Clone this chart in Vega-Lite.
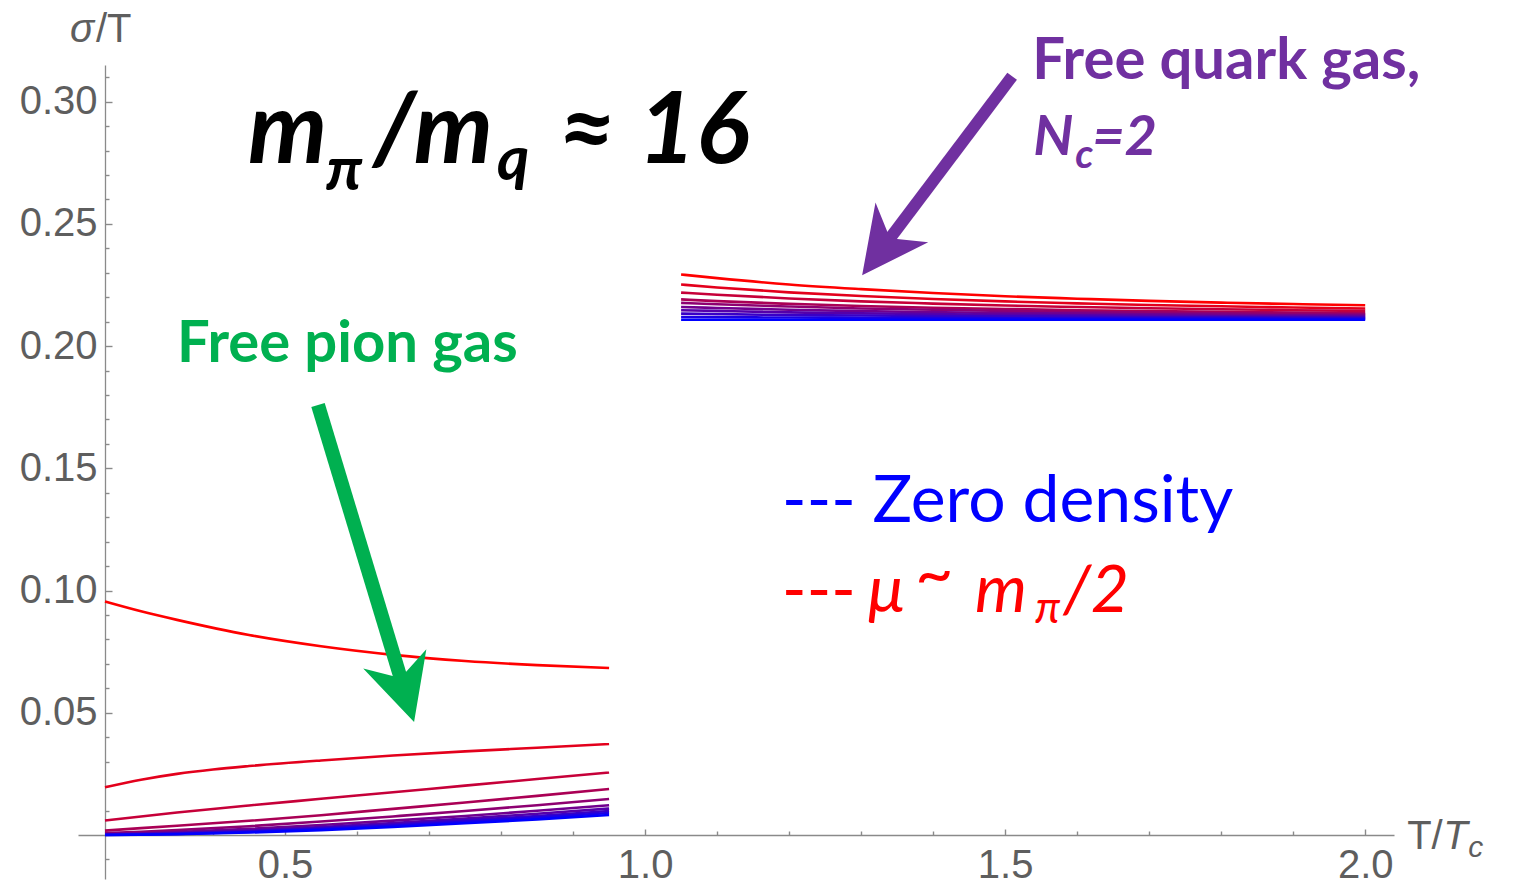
{
  "$schema": "https://vega.github.io/schema/vega-lite/v6.json",
  "width": 1316,
  "height": 814,
  "autosize": {"type": "none"},
  "padding": {"left": 78, "top": 65, "right": 120, "bottom": 6},
  "background": "white",
  "config": {
    "view": {"stroke": null},
    "axis": {
      "domainColor": "#8a8a8a",
      "domainWidth": 1.3,
      "tickColor": "#8a8a8a",
      "tickWidth": 1.4,
      "grid": false,
      "labelFont": "Liberation Sans",
      "labelFontSize": 40,
      "labelColor": "#5e5e5e",
      "labelOverlap": false,
      "labelFlush": false,
      "title": null
    }
  },
  "resolve": {"axis": {"x": "independent", "y": "independent"}},
  "datasets": {
    "curves": [
      {"b":"h","k":9,"T":0.25,"s":0.0955},{"b":"h","k":9,"T":0.30,"s":0.0915},{"b":"h","k":9,"T":0.35,"s":0.0880},{"b":"h","k":9,"T":0.45,"s":0.0818},{"b":"h","k":9,"T":0.55,"s":0.0772},{"b":"h","k":9,"T":0.65,"s":0.0737},{"b":"h","k":9,"T":0.75,"s":0.0712},{"b":"h","k":9,"T":0.85,"s":0.0695},{"b":"h","k":9,"T":0.95,"s":0.0683},
      {"b":"h","k":8,"T":0.25,"s":0.0195},{"b":"h","k":8,"T":0.30,"s":0.0226},{"b":"h","k":8,"T":0.35,"s":0.0250},{"b":"h","k":8,"T":0.40,"s":0.0268},{"b":"h","k":8,"T":0.45,"s":0.0282},{"b":"h","k":8,"T":0.55,"s":0.0305},{"b":"h","k":8,"T":0.65,"s":0.0325},{"b":"h","k":8,"T":0.75,"s":0.0342},{"b":"h","k":8,"T":0.85,"s":0.0357},{"b":"h","k":8,"T":0.95,"s":0.0372},
      {"b":"h","k":7,"T":0.25,"s":0.0059},{"b":"h","k":7,"T":0.30,"s":0.0076},{"b":"h","k":7,"T":0.35,"s":0.0092},{"b":"h","k":7,"T":0.45,"s":0.0121},{"b":"h","k":7,"T":0.55,"s":0.0148},{"b":"h","k":7,"T":0.65,"s":0.0175},{"b":"h","k":7,"T":0.75,"s":0.0202},{"b":"h","k":7,"T":0.85,"s":0.0229},{"b":"h","k":7,"T":0.95,"s":0.0256},
      {"b":"h","k":6,"T":0.25,"s":0.0018},{"b":"h","k":6,"T":0.30,"s":0.0028},{"b":"h","k":6,"T":0.35,"s":0.0038},{"b":"h","k":6,"T":0.45,"s":0.0058},{"b":"h","k":6,"T":0.55,"s":0.0081},{"b":"h","k":6,"T":0.65,"s":0.0107},{"b":"h","k":6,"T":0.75,"s":0.0133},{"b":"h","k":6,"T":0.85,"s":0.0160},{"b":"h","k":6,"T":0.95,"s":0.0188},
      {"b":"h","k":5,"T":0.25,"s":0.0008},{"b":"h","k":5,"T":0.30,"s":0.0013},{"b":"h","k":5,"T":0.35,"s":0.0020},{"b":"h","k":5,"T":0.45,"s":0.0036},{"b":"h","k":5,"T":0.55,"s":0.0055},{"b":"h","k":5,"T":0.65,"s":0.0076},{"b":"h","k":5,"T":0.75,"s":0.0098},{"b":"h","k":5,"T":0.85,"s":0.0122},{"b":"h","k":5,"T":0.95,"s":0.0147},
      {"b":"h","k":4,"T":0.25,"s":0.0004},{"b":"h","k":4,"T":0.30,"s":0.0007},{"b":"h","k":4,"T":0.35,"s":0.0012},{"b":"h","k":4,"T":0.45,"s":0.0025},{"b":"h","k":4,"T":0.55,"s":0.0041},{"b":"h","k":4,"T":0.65,"s":0.0059},{"b":"h","k":4,"T":0.75,"s":0.0078},{"b":"h","k":4,"T":0.85,"s":0.0099},{"b":"h","k":4,"T":0.95,"s":0.0122},
      {"b":"h","k":3,"T":0.25,"s":0.0002},{"b":"h","k":3,"T":0.30,"s":0.0005},{"b":"h","k":3,"T":0.35,"s":0.0008},{"b":"h","k":3,"T":0.45,"s":0.0019},{"b":"h","k":3,"T":0.55,"s":0.0033},{"b":"h","k":3,"T":0.65,"s":0.0049},{"b":"h","k":3,"T":0.75,"s":0.0067},{"b":"h","k":3,"T":0.85,"s":0.0087},{"b":"h","k":3,"T":0.95,"s":0.0108},
      {"b":"h","k":2,"T":0.25,"s":0.0001},{"b":"h","k":2,"T":0.30,"s":0.0003},{"b":"h","k":2,"T":0.35,"s":0.0006},{"b":"h","k":2,"T":0.45,"s":0.0015},{"b":"h","k":2,"T":0.55,"s":0.0028},{"b":"h","k":2,"T":0.65,"s":0.0043},{"b":"h","k":2,"T":0.75,"s":0.0060},{"b":"h","k":2,"T":0.85,"s":0.0078},{"b":"h","k":2,"T":0.95,"s":0.0098},
      {"b":"h","k":1,"T":0.25,"s":0.0000},{"b":"h","k":1,"T":0.30,"s":0.0002},{"b":"h","k":1,"T":0.35,"s":0.0004},{"b":"h","k":1,"T":0.45,"s":0.0012},{"b":"h","k":1,"T":0.55,"s":0.0024},{"b":"h","k":1,"T":0.65,"s":0.0038},{"b":"h","k":1,"T":0.75,"s":0.0054},{"b":"h","k":1,"T":0.85,"s":0.0071},{"b":"h","k":1,"T":0.95,"s":0.0090},
      {"b":"h","k":0,"T":0.25,"s":0.0000},{"b":"h","k":0,"T":0.30,"s":0.0001},{"b":"h","k":0,"T":0.35,"s":0.0003},{"b":"h","k":0,"T":0.45,"s":0.0010},{"b":"h","k":0,"T":0.55,"s":0.0020},{"b":"h","k":0,"T":0.65,"s":0.0033},{"b":"h","k":0,"T":0.75,"s":0.0048},{"b":"h","k":0,"T":0.85,"s":0.0064},{"b":"h","k":0,"T":0.95,"s":0.0082},
      {"b":"q","k":9,"T":1.05,"s":0.2293},{"b":"q","k":9,"T":1.1,"s":0.2278},{"b":"q","k":9,"T":1.2,"s":0.2252},{"b":"q","k":9,"T":1.3,"s":0.2233},{"b":"q","k":9,"T":1.4,"s":0.2217},{"b":"q","k":9,"T":1.5,"s":0.2204},{"b":"q","k":9,"T":1.6,"s":0.2194},{"b":"q","k":9,"T":1.7,"s":0.2185},{"b":"q","k":9,"T":1.8,"s":0.2178},{"b":"q","k":9,"T":1.9,"s":0.2172},{"b":"q","k":9,"T":2.0,"s":0.2167},
      {"b":"q","k":8,"T":1.05,"s":0.2252},{"b":"q","k":8,"T":1.1,"s":0.2240},{"b":"q","k":8,"T":1.2,"s":0.2220},{"b":"q","k":8,"T":1.3,"s":0.2205},{"b":"q","k":8,"T":1.4,"s":0.2193},{"b":"q","k":8,"T":1.5,"s":0.2183},{"b":"q","k":8,"T":1.6,"s":0.2175},{"b":"q","k":8,"T":1.7,"s":0.2168},{"b":"q","k":8,"T":1.8,"s":0.2163},{"b":"q","k":8,"T":1.9,"s":0.2158},{"b":"q","k":8,"T":2.0,"s":0.2154},
      {"b":"q","k":7,"T":1.05,"s":0.2219},{"b":"q","k":7,"T":1.1,"s":0.2210},{"b":"q","k":7,"T":1.2,"s":0.2195},{"b":"q","k":7,"T":1.3,"s":0.2183},{"b":"q","k":7,"T":1.4,"s":0.2174},{"b":"q","k":7,"T":1.5,"s":0.2166},{"b":"q","k":7,"T":1.6,"s":0.2160},{"b":"q","k":7,"T":1.7,"s":0.2155},{"b":"q","k":7,"T":1.8,"s":0.2151},{"b":"q","k":7,"T":1.9,"s":0.2147},{"b":"q","k":7,"T":2.0,"s":0.2144},
      {"b":"q","k":6,"T":1.05,"s":0.2191},{"b":"q","k":6,"T":1.1,"s":0.2184},{"b":"q","k":6,"T":1.2,"s":0.2173},{"b":"q","k":6,"T":1.3,"s":0.2164},{"b":"q","k":6,"T":1.4,"s":0.2157},{"b":"q","k":6,"T":1.5,"s":0.2152},{"b":"q","k":6,"T":1.6,"s":0.2147},{"b":"q","k":6,"T":1.7,"s":0.2143},{"b":"q","k":6,"T":1.8,"s":0.2140},{"b":"q","k":6,"T":1.9,"s":0.2137},{"b":"q","k":6,"T":2.0,"s":0.2135},
      {"b":"q","k":5,"T":1.05,"s":0.2177},{"b":"q","k":5,"T":1.1,"s":0.2171},{"b":"q","k":5,"T":1.2,"s":0.2162},{"b":"q","k":5,"T":1.3,"s":0.2154},{"b":"q","k":5,"T":1.4,"s":0.2149},{"b":"q","k":5,"T":1.5,"s":0.2144},{"b":"q","k":5,"T":1.6,"s":0.2140},{"b":"q","k":5,"T":1.7,"s":0.2137},{"b":"q","k":5,"T":1.8,"s":0.2134},{"b":"q","k":5,"T":1.9,"s":0.2132},{"b":"q","k":5,"T":2.0,"s":0.2130},
      {"b":"q","k":4,"T":1.05,"s":0.2160},{"b":"q","k":4,"T":1.1,"s":0.2156},{"b":"q","k":4,"T":1.2,"s":0.2149},{"b":"q","k":4,"T":1.3,"s":0.2143},{"b":"q","k":4,"T":1.4,"s":0.2139},{"b":"q","k":4,"T":1.5,"s":0.2135},{"b":"q","k":4,"T":1.6,"s":0.2133},{"b":"q","k":4,"T":1.7,"s":0.2130},{"b":"q","k":4,"T":1.8,"s":0.2128},{"b":"q","k":4,"T":1.9,"s":0.2126},{"b":"q","k":4,"T":2.0,"s":0.2125},
      {"b":"q","k":3,"T":1.05,"s":0.2147},{"b":"q","k":3,"T":1.1,"s":0.2144},{"b":"q","k":3,"T":1.2,"s":0.2138},{"b":"q","k":3,"T":1.3,"s":0.2134},{"b":"q","k":3,"T":1.4,"s":0.2131},{"b":"q","k":3,"T":1.5,"s":0.2128},{"b":"q","k":3,"T":1.6,"s":0.2126},{"b":"q","k":3,"T":1.7,"s":0.2124},{"b":"q","k":3,"T":1.8,"s":0.2122},{"b":"q","k":3,"T":1.9,"s":0.2121},{"b":"q","k":3,"T":2.0,"s":0.2120},
      {"b":"q","k":2,"T":1.05,"s":0.2133},{"b":"q","k":2,"T":1.1,"s":0.2131},{"b":"q","k":2,"T":1.2,"s":0.2127},{"b":"q","k":2,"T":1.3,"s":0.2125},{"b":"q","k":2,"T":1.4,"s":0.2123},{"b":"q","k":2,"T":1.5,"s":0.2121},{"b":"q","k":2,"T":1.6,"s":0.2120},{"b":"q","k":2,"T":1.7,"s":0.2118},{"b":"q","k":2,"T":1.8,"s":0.2118},{"b":"q","k":2,"T":1.9,"s":0.2117},{"b":"q","k":2,"T":2.0,"s":0.2116},
      {"b":"q","k":1,"T":1.05,"s":0.2119},{"b":"q","k":1,"T":1.1,"s":0.2118},{"b":"q","k":1,"T":1.2,"s":0.2117},{"b":"q","k":1,"T":1.3,"s":0.2116},{"b":"q","k":1,"T":1.4,"s":0.2115},{"b":"q","k":1,"T":1.5,"s":0.2114},{"b":"q","k":1,"T":1.6,"s":0.2113},{"b":"q","k":1,"T":1.7,"s":0.2113},{"b":"q","k":1,"T":1.8,"s":0.2113},{"b":"q","k":1,"T":1.9,"s":0.2112},{"b":"q","k":1,"T":2.0,"s":0.2112},
      {"b":"q","k":0,"T":1.05,"s":0.2108},{"b":"q","k":0,"T":1.1,"s":0.2108},{"b":"q","k":0,"T":1.2,"s":0.2108},{"b":"q","k":0,"T":1.3,"s":0.2108},{"b":"q","k":0,"T":1.4,"s":0.2108},{"b":"q","k":0,"T":1.5,"s":0.2108},{"b":"q","k":0,"T":1.6,"s":0.2108},{"b":"q","k":0,"T":1.7,"s":0.2108},{"b":"q","k":0,"T":1.8,"s":0.2108},{"b":"q","k":0,"T":1.9,"s":0.2108},{"b":"q","k":0,"T":2.0,"s":0.2108}
    ]
  },
  "layer": [
    {
      "data": {"name": "curves"},
      "mark": {"type": "line", "strokeWidth": 2.6, "interpolate": "monotone"},
      "encoding": {
        "x": {
          "field": "T", "type": "quantitative",
          "scale": {"domain": [0.2125, 2.04], "nice": false, "zero": false},
          "axis": {
            "orient": "bottom",
            "offset": -44,
            "values": [0.5, 1.0, 1.5, 2.0],
            "format": ".1f",
            "tickSize": -6,
            "labelPadding": 16,
            "labelBaseline": "top"
          }
        },
        "y": {
          "field": "s", "type": "quantitative",
          "scale": {"domain": [-0.018, 0.315], "nice": false, "zero": false},
          "axis": {
            "orient": "left",
            "offset": -27,
            "values": [0.05, 0.1, 0.15, 0.2, 0.25, 0.3],
            "format": ".2f",
            "tickSize": -7,
            "labelPadding": 15
          }
        },
        "color": {
          "field": "k", "type": "quantitative",
          "scale": {"domain": [0, 9], "range": ["#0000ff", "#ff0000"], "interpolate": "rgb"},
          "legend": null
        },
        "detail": [{"field": "b", "type": "nominal"}, {"field": "k", "type": "ordinal"}],
        "order": {"field": "T", "type": "quantitative"}
      }
    },
    {
      "data": {"values": [{"x": 1.5097, "y": 0.3104, "x2": 1.329, "y2": 0.2398}]},
      "mark": {"type": "rule", "color": "#7030a0", "strokeWidth": 12, "strokeCap": "butt"},
      "encoding": {
        "x": {
          "field": "x", "type": "quantitative",
          "axis": {
            "orient": "bottom",
            "offset": -44,
            "values": [0.3,0.4,0.6,0.7,0.8,0.9,1.1,1.2,1.3,1.4,1.6,1.7,1.8,1.9],
            "labels": false,
            "domain": false,
            "tickSize": -4
          }
        },
        "y": {
          "field": "y", "type": "quantitative",
          "axis": {
            "orient": "left",
            "offset": -27,
            "values": [-0.01,0.01,0.02,0.03,0.04,0.06,0.07,0.08,0.09,0.11,0.12,0.13,0.14,0.16,0.17,0.18,0.19,0.21,0.22,0.23,0.24,0.26,0.27,0.28,0.29,0.31],
            "labels": false,
            "domain": false,
            "tickSize": -4
          }
        },
        "x2": {"field": "x2"},
        "y2": {"field": "y2"}
      }
    },
    {
      "data": {"values": [{"x": 1.329, "y": 0.2398}]},
      "mark": {"type": "point", "shape": "M0,-1L1,1L0,0.4L-1,1Z", "size": 4356, "angle": 217, "filled": true, "color": "#7030a0", "opacity": 1, "strokeWidth": 0},
      "encoding": {
        "x": {"field": "x", "type": "quantitative", "axis": null},
        "y": {"field": "y", "type": "quantitative", "axis": null}
      }
    },
    {
      "data": {"values": [{"x": 0.5458, "y": 0.1759, "x2": 0.6658, "y2": 0.0591}]},
      "mark": {"type": "rule", "color": "#00b050", "strokeWidth": 14, "strokeCap": "butt"},
      "encoding": {
        "x": {"field": "x", "type": "quantitative", "axis": null},
        "y": {"field": "y", "type": "quantitative", "axis": null},
        "x2": {"field": "x2"},
        "y2": {"field": "y2"}
      }
    },
    {
      "data": {"values": [{"x": 0.6658, "y": 0.0591}]},
      "mark": {"type": "point", "shape": "M0,-1L1,1L0,0.4L-1,1Z", "size": 4356, "angle": 163, "filled": true, "color": "#00b050", "opacity": 1, "strokeWidth": 0},
      "encoding": {
        "x": {"field": "x", "type": "quantitative", "axis": null},
        "y": {"field": "y", "type": "quantitative", "axis": null}
      }
    },
    {
      "data": {"values": [{"x": 0.4486, "y": 0.2748, "t": "m"}, {"x": 0.6222, "y": 0.2748, "t": "/m"}, {"x": 0.8792, "y": 0.2748, "t": "≈ 16"}]},
      "mark": {"type": "text", "font": "Lato", "fontWeight": "bold", "fontStyle": "italic", "fontSize": 100, "color": "#000000", "align": "left", "baseline": "alphabetic"},
      "encoding": {"x": {"field": "x", "type": "quantitative", "axis": null}, "y": {"field": "y", "type": "quantitative", "axis": null}, "text": {"field": "t"}}
    },
    {
      "data": {"values": [{"x": 0.5569, "y": 0.2638, "t": "π"}, {"x": 0.7944, "y": 0.2679, "t": "q"}]},
      "mark": {"type": "text", "font": "Lato", "fontWeight": "bold", "fontStyle": "italic", "fontSize": 62, "color": "#000000", "align": "left", "baseline": "alphabetic"},
      "encoding": {"x": {"field": "x", "type": "quantitative", "axis": null}, "y": {"field": "y", "type": "quantitative", "axis": null}, "text": {"field": "t"}}
    },
    {
      "data": {"values": [{"x": 1.5375, "y": 0.3092, "t": "Free quark gas,"}]},
      "mark": {"type": "text", "font": "Lato", "fontWeight": "bold", "fontSize": 58, "color": "#7030a0", "align": "left", "baseline": "alphabetic"},
      "encoding": {"x": {"field": "x", "type": "quantitative", "axis": null}, "y": {"field": "y", "type": "quantitative", "axis": null}, "text": {"field": "t"}}
    },
    {
      "data": {"values": [{"x": 1.5389, "y": 0.2781, "t": "N"}, {"x": 1.6208, "y": 0.2781, "t": "=2"}]},
      "mark": {"type": "text", "font": "Lato", "fontWeight": "bold", "fontStyle": "italic", "fontSize": 56, "color": "#7030a0", "align": "left", "baseline": "alphabetic"},
      "encoding": {"x": {"field": "x", "type": "quantitative", "axis": null}, "y": {"field": "y", "type": "quantitative", "axis": null}, "text": {"field": "t"}}
    },
    {
      "data": {"values": [{"x": 1.5972, "y": 0.2728, "t": "c"}]},
      "mark": {"type": "text", "font": "Lato", "fontWeight": "bold", "fontStyle": "italic", "fontSize": 40, "color": "#7030a0", "align": "left", "baseline": "alphabetic"},
      "encoding": {"x": {"field": "x", "type": "quantitative", "axis": null}, "y": {"field": "y", "type": "quantitative", "axis": null}, "text": {"field": "t"}}
    },
    {
      "data": {"values": [{"x": 0.35, "y": 0.1934, "t": "Free pion gas"}]},
      "mark": {"type": "text", "font": "Lato", "fontWeight": "bold", "fontSize": 58, "color": "#00b050", "align": "left", "baseline": "alphabetic"},
      "encoding": {"x": {"field": "x", "type": "quantitative", "axis": null}, "y": {"field": "y", "type": "quantitative", "axis": null}, "text": {"field": "t"}}
    },
    {
      "data": {"values": [{"x": 1.1903, "y": 0.1280, "t": "--- Zero density"}]},
      "mark": {"type": "text", "font": "Lato", "fontSize": 66, "color": "#0000ff", "align": "left", "baseline": "alphabetic"},
      "encoding": {"x": {"field": "x", "type": "quantitative", "axis": null}, "y": {"field": "y", "type": "quantitative", "axis": null}, "text": {"field": "t"}}
    },
    {
      "data": {"values": [{"x": 1.1903, "y": 0.0912, "t": "---"}]},
      "mark": {"type": "text", "font": "Lato", "fontSize": 66, "color": "#ff0000", "align": "left", "baseline": "alphabetic"},
      "encoding": {"x": {"field": "x", "type": "quantitative", "axis": null}, "y": {"field": "y", "type": "quantitative", "axis": null}, "text": {"field": "t"}}
    },
    {
      "data": {"values": [{"x": 1.3097, "y": 0.0912, "t": "μ"}, {"x": 1.3750, "y": 0.0978, "t": "~"}, {"x": 1.4583, "y": 0.0912, "t": "m"}, {"x": 1.5806, "y": 0.0912, "t": "/2"}]},
      "mark": {"type": "text", "font": "Lato", "fontStyle": "italic", "fontSize": 66, "color": "#ff0000", "align": "left", "baseline": "alphabetic"},
      "encoding": {"x": {"field": "x", "type": "quantitative", "axis": null}, "y": {"field": "y", "type": "quantitative", "axis": null}, "text": {"field": "t"}}
    },
    {
      "data": {"values": [{"x": 1.5417, "y": 0.0867, "t": "π"}]},
      "mark": {"type": "text", "font": "Lato", "fontStyle": "italic", "fontSize": 44, "color": "#ff0000", "align": "left", "baseline": "alphabetic"},
      "encoding": {"x": {"field": "x", "type": "quantitative", "axis": null}, "y": {"field": "y", "type": "quantitative", "axis": null}, "text": {"field": "t"}}
    },
    {
      "data": {"values": [{"x": 0.2014, "y": 0.3243, "t": "σ"}, {"x": 2.1083, "y": -0.0057, "t": "T"}]},
      "mark": {"type": "text", "font": "Liberation Sans", "fontStyle": "italic", "fontSize": 40, "color": "#5e5e5e", "align": "left", "baseline": "alphabetic"},
      "encoding": {"x": {"field": "x", "type": "quantitative", "axis": null}, "y": {"field": "y", "type": "quantitative", "axis": null}, "text": {"field": "t"}}
    },
    {
      "data": {"values": [{"x": 0.2375, "y": 0.3243, "t": "/T"}, {"x": 2.0583, "y": -0.0057, "t": "T/"}]},
      "mark": {"type": "text", "font": "Liberation Sans", "fontSize": 40, "color": "#5e5e5e", "align": "left", "baseline": "alphabetic"},
      "encoding": {"x": {"field": "x", "type": "quantitative", "axis": null}, "y": {"field": "y", "type": "quantitative", "axis": null}, "text": {"field": "t"}}
    },
    {
      "data": {"values": [{"x": 2.1431, "y": -0.0090, "t": "c"}]},
      "mark": {"type": "text", "font": "Liberation Sans", "fontStyle": "italic", "fontSize": 30, "color": "#5e5e5e", "align": "left", "baseline": "alphabetic"},
      "encoding": {"x": {"field": "x", "type": "quantitative", "axis": null}, "y": {"field": "y", "type": "quantitative", "axis": null}, "text": {"field": "t"}}
    }
  ]
}
